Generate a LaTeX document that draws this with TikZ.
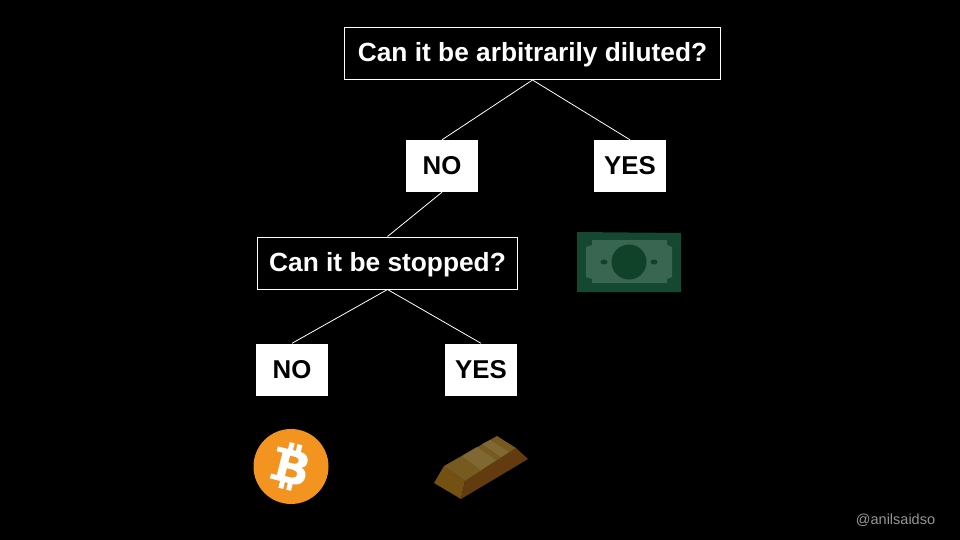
\documentclass[tikz,border=0pt]{standalone}
\usepackage{fontspec}
\setmainfont{Liberation Sans}
\begin{document}
\begin{tikzpicture}[x=1pt,y=-1pt,
  question/.style={draw=white,line width=1pt,fill=black,text=white,font=\fontsize{26.3}{30}\selectfont\bfseries,inner sep=0pt,minimum height=52pt,text height=22pt,text depth=5pt},
  answer/.style={fill=white,text=black,font=\fontsize{25.8}{30}\selectfont\bfseries,inner sep=0pt,minimum width=72pt,minimum height=52pt},
  link/.style={draw=white,line width=0.8pt}]
\fill[black] (0,0) rectangle (960,540);
\useasboundingbox (0,0) rectangle (960,540);
% boxes
\node[question,minimum width=376pt] (q1) at (532.5,53.5) {Can it be arbitrarily diluted?};
\node[answer] (no1) at (442,166) {NO};
\node[answer] (yes1) at (630,166) {YES};
\node[question,minimum width=260pt] (q2) at (387.5,263) {Can it be stopped?};
\node[answer] (no2) at (292,369.5) {NO};
\node[answer] (yes2) at (481,369.5) {YES};
\draw[link] (q1.south) -- (no1.north);
\draw[link] (q1.south) -- (yes1.north);
\draw[link] (no1.south) -- (q2.north);
\draw[link] (q2.south) -- (no2.north);
\draw[link] (q2.south) -- (yes2.north);
% banknote
\fill[fill={rgb,255:red,20;green,72;blue,48}] (577,232) -- (681,233) -- (681,292) -- (577,292) -- cycle;
\fill[fill={rgb,255:red,56;green,102;blue,80}] (592,240) -- (667,240) -- (667,245) -- (672,247) -- (672,277) -- (667,279) -- (667,283) -- (592,283) -- (592,279) -- (586,277) -- (586,247) -- (592,245) -- cycle;
\fill[fill={rgb,255:red,16;green,66;blue,42}] (629,262) circle (17.5);
\fill[fill={rgb,255:red,16;green,66;blue,42}] (604,262) ellipse (3.5 and 2.5);
\fill[fill={rgb,255:red,16;green,66;blue,42}] (654,262) ellipse (3.5 and 2.5);
% bitcoin
\fill[fill={rgb,255:red,243;green,147;blue,32}] (291,466.5) circle (37.5);
\begin{scope}[shift={(290.5,466)},rotate=-14]
  \fill[white,even odd rule]
    (-17,-16) -- (7,-16) .. controls (17,-16) and (18,-3) .. (11,-1)
    .. controls (20,1) and (19,17) .. (7,17) -- (-17,17) -- (-17,12) -- (-11,12) -- (-11,-11) -- (-17,-11) -- cycle
    (-3,-10) -- (-3,-3) -- (3,-3) .. controls (8,-3) and (8,-10) .. (3,-10) -- cycle
    (-3,3) -- (-3,11) -- (4,11) .. controls (10,11) and (10,3) .. (4,3) -- cycle;
  \fill[white] (-6.5,-23) rectangle (-1.5,-15);
  \fill[white] (1.5,-23) rectangle (6.5,-15);
  \fill[white] (-6.5,16) rectangle (-1.5,24);
  \fill[white] (1.5,16) rectangle (6.5,24);
\end{scope}
% gold bar
\fill[fill={rgb,255:red,116;green,80;blue,18}] (444,466) -- (465,481) -- (461,499) -- (434,483) -- cycle;
\fill[fill={rgb,255:red,98;green,60;blue,14}] (465,481) -- (516,448) -- (528,459) -- (461,499) -- cycle;
\fill[fill={rgb,255:red,118;green,90;blue,32}] (444,466) -- (497,436) -- (516,448) -- (465,481) -- cycle;
\fill[fill={rgb,255:red,128;green,104;blue,50}] (462,456) -- (477,447) -- (496,460) -- (481,470) -- cycle;
\fill[fill={rgb,255:red,128;green,104;blue,50}] (482,444) -- (490,440) -- (509,452) -- (501,457) -- cycle;
% credit
\node[text={rgb,255:red,150;green,150;blue,150},font=\fontsize{14.5}{17}\selectfont,inner sep=0pt] (credit) at (895.5,520) {@anilsaidso};
\end{tikzpicture}
\end{document}
